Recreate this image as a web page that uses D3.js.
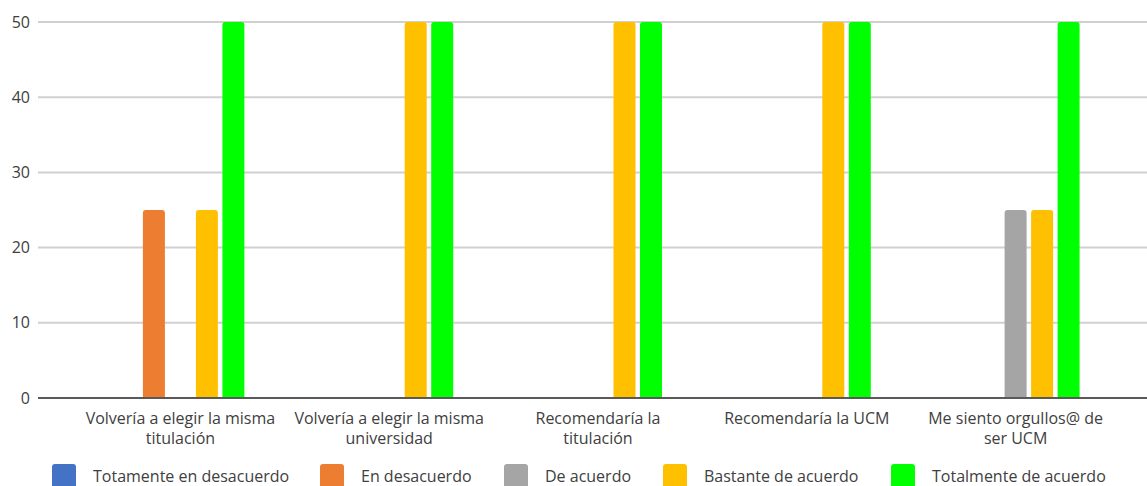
<!DOCTYPE html>
<html>
  <head>
    <meta charset="utf-8">
    <script src="https://cdn.jsdelivr.net/npm/d3@7"></script>
    <style type="text/css">
      body {
        margin: 0;
        padding: 0;
        background: #fff;
        font-family: 'Open Sans', 'Noto Sans', sans-serif;
      }
      svg text {
        fill: #404040;
      }
    </style>
  </head>
  <body>
    <svg id="chart" width="1147" height="486"></svg>
    <script>
      /* Data */
      const categories = [
        "Volvería a elegir la misma titulación",
        "Volvería a elegir la misma universidad",
        "Recomendaría la titulación",
        "Recomendaría la UCM",
        "Me siento orgullos@ de ser UCM"
      ]
      const categoryLines = [
        ["Volvería a elegir la misma", "titulación"],
        ["Volvería a elegir la misma", "universidad"],
        ["Recomendaría la", "titulación"],
        ["Recomendaría la UCM"],
        ["Me siento orgullos@ de", "ser UCM"]
      ]
      const seriesNames = [
        "Totamente en desacuerdo",
        "En desacuerdo",
        "De acuerdo",
        "Bastante de acuerdo",
        "Totalmente de acuerdo"
      ]
      const totDesacuerdo = [0, 0, 0, 0, 0]
      const enDesacuerdo = [25, 0, 0, 0, 0]
      const deAcuerdo = [0, 0, 0, 0, 25]
      const bastanteAcuerdo = [25, 50, 50, 50, 25]
      const totalmenteAcuerdo = [50, 50, 50, 50, 50]
      const yTicks = [0, 10, 20, 30, 40, 50]
      const colors = ["#4472C4", "#ED7D31", "#A5A5A5", "#FFC000", "#00FF00"]

      const seriesValues = [totDesacuerdo, enDesacuerdo, deAcuerdo, bastanteAcuerdo, totalmenteAcuerdo]

      /* Layout */
      const plotLeft = 38
      const plotRight = 1147
      const y = d3.scaleLinear().domain([0, 50]).range([398, 22])
      const x0 = d3.scaleBand().domain(categories).range([76, 1120])
      const x1 = d3.scaleBand().domain(seriesNames).range([0, 132.5]).paddingInner(0.17).paddingOuter(0.085)

      const svg = d3.select("#chart")

      // gridlines
      svg.append("g")
        .selectAll("line")
        .data(yTicks.filter(t => t > 0))
        .join("line")
          .attr("x1", plotLeft)
          .attr("x2", plotRight)
          .attr("y1", d => y(d))
          .attr("y2", d => y(d))
          .style("stroke", "#d0d0d0")
          .style("stroke-width", 2)

      // y tick labels
      svg.append("g")
        .selectAll("text")
        .data(yTicks)
        .join("text")
          .attr("x", 30)
          .attr("y", d => y(d))
          .attr("dy", "0.35em")
          .attr("text-anchor", "end")
          .style("font-size", "16px")
          .text(d => d)

      // bars, top corners rounded
      const rounded = (x, yTop, w, h, r) => {
        if (h <= 0) return ""
        r = Math.min(r, h)
        return `M${x},${yTop + h}V${yTop + r}Q${x},${yTop} ${x + r},${yTop}H${x + w - r}Q${x + w},${yTop} ${x + w},${yTop + r}V${yTop + h}Z`
      }

      const groups = svg.append("g")
        .selectAll("g")
        .data(categories)
        .join("g")
          .attr("transform", (d, i) => `translate(${x0(d) + (x0.bandwidth() - 132.5) / 2},0)`)

      groups.selectAll("path")
        .data((c, ci) => seriesNames.map((s, si) => ({ s, si, v: seriesValues[si][ci] })))
        .join("path")
          .attr("d", d => rounded(x1(d.s), y(d.v), x1.bandwidth(), y(0) - y(d.v), 3))
          .style("fill", d => colors[d.si])

      // x axis line
      svg.append("line")
        .attr("x1", plotLeft)
        .attr("x2", plotRight)
        .attr("y1", y(0))
        .attr("y2", y(0))
        .style("stroke", "#595959")
        .style("stroke-width", 2)

      // category labels
      svg.append("g")
        .selectAll("text")
        .data(categories)
        .join("text")
          .attr("x", d => x0(d) + x0.bandwidth() / 2)
          .attr("y", 424)
          .attr("text-anchor", "middle")
          .style("font-size", "16px")
          .each(function (d, i) {
            d3.select(this).selectAll("tspan")
              .data(categoryLines[i])
              .join("tspan")
                .attr("x", x0(d) + x0.bandwidth() / 2)
                .attr("dy", (l, j) => j === 0 ? 0 : 20)
                .text(l => l)
          })

      // legend
      const legendX = [52, 320, 504, 663, 891]
      const legend = svg.append("g")
        .selectAll("g")
        .data(seriesNames)
        .join("g")
          .attr("transform", (d, i) => `translate(${legendX[i]},464)`)

      legend.append("rect")
        .attr("width", 24)
        .attr("height", 24)
        .attr("rx", 3)
        .style("fill", (d, i) => colors[i])

      legend.append("text")
        .attr("x", 41)
        .attr("y", 12)
        .attr("dy", "0.35em")
        .style("font-size", "16px")
        .text(d => d)
    </script>
  </body>
</html>
